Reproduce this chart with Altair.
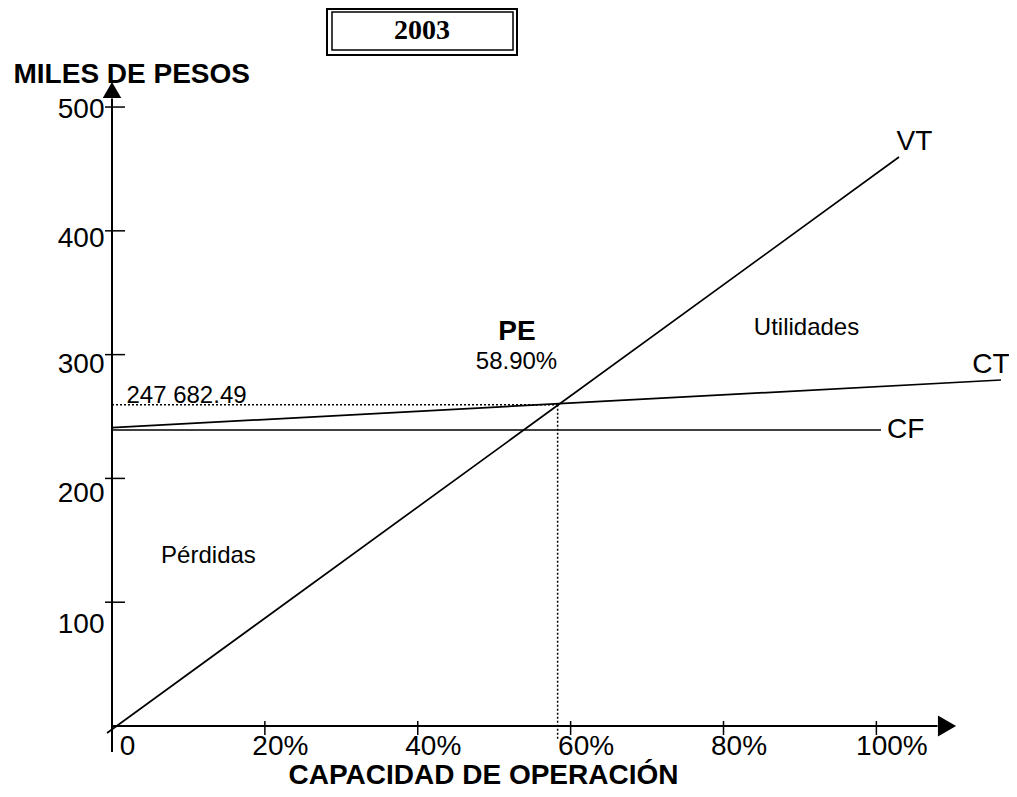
import altair as alt
import pandas as pd

# ---- data (x: % of operating capacity, y: thousands of pesos) ----
series_names = ["VT", "VT", "CT", "CT", "CF", "CF"]
series_x = [-0.65, 102.96, 0.0, 116.3, 0.0, 100.6]
series_y = [-5.65, 459.6, 241.0, 279.5, 239.1, 239.1]

pe_x = 58.3
pe_y = 259.5
pe_label = "58.90%"
pe_value_label = "247 682.49"

x_tick_values = [0, 20, 40, 60, 80, 100]
x_tick_labels = ["0", "20%", "40%", "60%", "80%", "100%"]
y_tick_values = [100, 200, 300, 400, 500]
y_tick_labels = ["100", "200", "300", "400", "500"]

curve_label_text = ["VT", "CT", "CF"]
curve_label_x = [104.98, 114.99, 103.83]
curve_label_y = [465.3, 285.2, 232.6]

region_text = ["Utilidades", "Pérdidas"]
region_x = [90.86, 12.62]
region_y = [315.9, 131.7]

year_text = ["2003"]

# axis line extents (data units)
y_axis_from, y_axis_to = -21, 507
x_axis_from, x_axis_to = 0, 108
y_arrow = (0, 513.8)
x_arrow = (109.24, 0)

FONT = "Liberation Sans"

def label_expr(values, labels):
    expr = "''"
    for v, l in reversed(list(zip(values, labels))):
        expr = f"datum.value == {v} ? '{l}' : ({expr})"
    return expr

# hand-drawn label placement relative to each y tick (pixels)
y_label_shift = {500: 2, 400: 8, 200: 15, 100: 22}
y_label_offset = {
    "condition": [{"test": f"datum.value == {k}", "value": v} for k, v in y_label_shift.items()],
    "value": 10,
}

x_enc = alt.X(
    "x:Q",
    scale=alt.Scale(domain=[0, 117.35], nice=False, zero=False),
    axis=alt.Axis(
        values=x_tick_values, labelExpr=label_expr(x_tick_values, x_tick_labels),
        domain=False, ticks=False, tickSize=0, grid=False,
        labelFont=FONT, labelFontSize=28, labelColor="black",
        labelPadding=6.5, labelOffset=15, labelBaseline="top", labelAlign="center",
        labelFlush=False, labelOverlap=False,
        title="CAPACIDAD DE OPERACIÓN", titleFont=FONT, titleFontSize=28,
        titleFontWeight="bold", titleColor="black", titleX=371, titleY=57,
        titleAlign="center", titleBaseline="alphabetic",
    ),
)
y_enc = alt.Y(
    "y:Q",
    scale=alt.Scale(domain=[0, 538], nice=False, zero=False),
    axis=alt.Axis(
        values=y_tick_values, labelExpr=label_expr(y_tick_values, y_tick_labels),
        domain=False, ticks=False, tickSize=0, grid=False,
        labelFont=FONT, labelFontSize=28, labelColor="black",
        labelPadding=8, labelOffset=y_label_offset, labelBaseline="middle", labelAlign="right",
        labelFlush=False, labelOverlap=False,
        title="MILES DE PESOS", titleFont=FONT, titleFontSize=28,
        titleFontWeight="bold", titleColor="black", titleAngle=0,
        titleX=-99, titleY=22, titleAlign="left", titleBaseline="alphabetic",
    ),
)

lines_df = pd.DataFrame({"s": series_names, "x": series_x, "y": series_y})
axes_df = pd.DataFrame({
    "x": [0, x_axis_from], "x2": [0, x_axis_to],
    "y": [y_axis_from, 0], "y2": [y_axis_to, 0],
})
dots_df = pd.DataFrame({
    "x": [0, pe_x], "x2": [pe_x, pe_x],
    "y": [pe_y, pe_y], "y2": [pe_y, -11.3],
})
yticks_df = pd.DataFrame({"x": [0] * len(y_tick_values), "y": y_tick_values})
xticks_df = pd.DataFrame({"x": x_tick_values[1:], "y": [0] * (len(x_tick_values) - 1)})
yarrow_df = pd.DataFrame({"x": [y_arrow[0]], "y": [y_arrow[1]]})
xarrow_df = pd.DataFrame({"x": [x_arrow[0]], "y": [x_arrow[1]]})
curve_lab_df = pd.DataFrame({"t": curve_label_text, "x": curve_label_x, "y": curve_label_y})
region_df = pd.DataFrame({"t": region_text, "x": region_x, "y": region_y})
pe_df = pd.DataFrame({"t": ["PE"], "x": [52.98], "y": [311.8]})
pe_pct_df = pd.DataFrame({"t": [pe_label], "x": [52.92], "y": [288.4]})
pe_val_df = pd.DataFrame({"t": [pe_value_label], "x": [9.75], "y": [260.9]})
year_df = pd.DataFrame({"t": year_text})

axes = alt.Chart(axes_df).mark_rule(color="black", strokeWidth=2).encode(
    x=x_enc, y=y_enc, x2="x2:Q", y2="y2:Q")
yarrow = alt.Chart(yarrow_df).mark_point(
    shape="triangle-up", size=342, filled=True, color="black", opacity=1
).encode(x=x_enc, y=y_enc)
xarrow = alt.Chart(xarrow_df).mark_point(
    shape="triangle-right", size=441, filled=True, color="black", opacity=1
).encode(x=x_enc, y=y_enc)
yticks = alt.Chart(yticks_df).mark_tick(
    orient="horizontal", size=20, thickness=1.5, color="black", xOffset=3, opacity=1
).encode(x=x_enc, y=y_enc)
xticks = alt.Chart(xticks_df).mark_tick(
    orient="vertical", size=14, thickness=1.5, color="black", yOffset=2, opacity=1
).encode(x=x_enc, y=y_enc)
lines = alt.Chart(lines_df).mark_line(color="black", strokeWidth=1.7).encode(
    x=x_enc, y=y_enc, detail="s:N")
dots = alt.Chart(dots_df).mark_rule(color="black", strokeWidth=1.5, strokeDash=[2, 2]).encode(
    x=x_enc, y=y_enc, x2="x2:Q", y2="y2:Q")

def text_layer(df, size, weight="normal"):
    return alt.Chart(df).mark_text(
        font=FONT, fontSize=size, fontWeight=weight, color="black",
        align="center", baseline="alphabetic",
    ).encode(x=x_enc, y=y_enc, text="t:N")

curve_labels = text_layer(curve_lab_df, 28)
region_labels = text_layer(region_df, 24)
pe_text = text_layer(pe_df, 28, "bold")
pe_pct = text_layer(pe_pct_df, 24)
pe_val = text_layer(pe_val_df, 24)

box_outer = alt.Chart(year_df).mark_rect(
    filled=False, stroke="black", strokeWidth=2
).encode(x=alt.value(215), x2=alt.value(405), y=alt.value(-51), y2=alt.value(-5))
box_inner = alt.Chart(year_df).mark_rect(
    filled=False, stroke="black", strokeWidth=1.5
).encode(x=alt.value(220), x2=alt.value(401), y=alt.value(-48), y2=alt.value(-10))
year = alt.Chart(year_df).mark_text(
    font="Liberation Serif", fontSize=28, fontWeight="bold", color="black",
    align="center", baseline="alphabetic",
).encode(x=alt.value(310), y=alt.value(-21), text="t:N")

chart = alt.layer(
    axes, yarrow, xarrow, yticks, xticks, lines, dots,
    curve_labels, region_labels, pe_text, pe_pct, pe_val,
    box_outer, box_inner, year,
).properties(
    width=897, height=666,
    autosize=alt.AutoSizeParams(type="none"),
    padding={"left": 104, "top": 52, "right": 0, "bottom": 63},
    background="white",
).configure_view(strokeWidth=0)

chart.save("out.html", embed_options={"renderer": "svg", "actions": False})
